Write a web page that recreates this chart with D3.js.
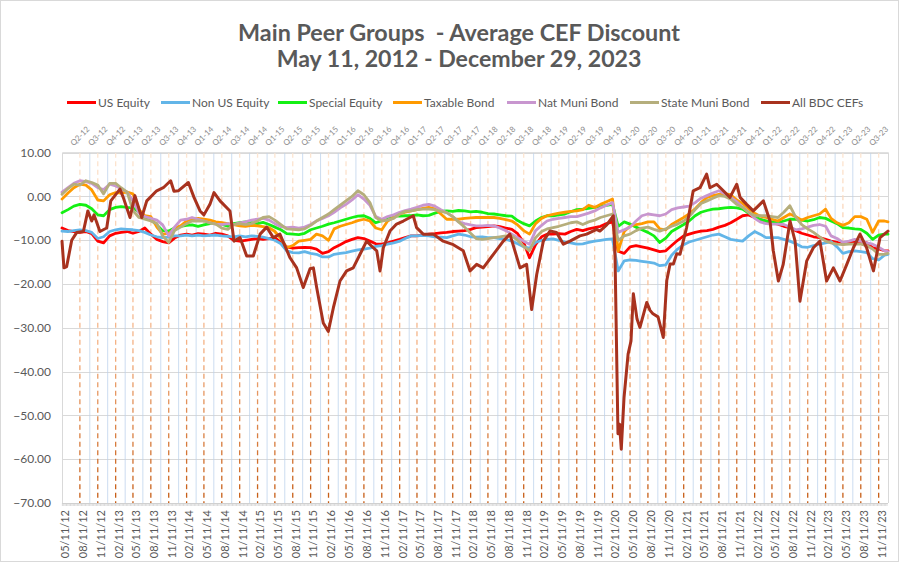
<!DOCTYPE html>
<html><head><meta charset="utf-8">
<script src="https://cdn.jsdelivr.net/npm/d3@7"></script>
<style>
body{margin:0;background:#fff}
svg{display:block}
text{font-family:Lato,"Open Sans",sans-serif}
</style>
</head><body>
<svg id="chart" width="899" height="562"></svg>
<script>
// ---------------- DATA ----------------
const titleLines = ["Main Peer Groups  - Average CEF Discount", "May 11, 2012 - December 29, 2023"];
const seriesNames = ["US Equity","Non US Equity","Special Equity","Taxable Bond","Nat Muni Bond","State Muni Bond","All BDC CEFs"];
const seriesColors = ["#ff0000","#62b5e8","#14f014","#ff9a00","#c896cf","#b5ae7c","#a8321e"];
const yTicks = [10,0,-10,-20,-30,-40,-50,-60,-70];
const quarterLabels = ["Q2-12","Q3-12","Q4-12","Q1-13","Q2-13","Q3-13","Q4-13","Q1-14","Q2-14","Q3-14","Q4-14",
  "Q1-15","Q2-15","Q3-15","Q4-15","Q1-16","Q2-16","Q3-16","Q4-16","Q1-17","Q2-17","Q3-17","Q4-17",
  "Q1-18","Q2-18","Q3-18","Q4-18","Q1-19","Q2-19","Q3-19","Q4-19","Q1-20","Q2-20","Q3-20","Q4-20",
  "Q1-21","Q2-21","Q3-21","Q4-21","Q1-22","Q2-22","Q3-22","Q4-22","Q1-23","Q2-23","Q3-23"];

// sample dates: the 11th of each month from May 2012 to Dec 2023, then the last observation
const startDate = new Date(2012,4,11), endDate = new Date(2023,11,29);
const monthDates = d3.range(140).map(i => new Date(2012, 4 + i, 11)).concat([endDate]);
// axis ticks: every 3 months from 05/11/12 to 11/11/23
const tickDates = d3.range(47).map(i => new Date(2012, 4 + 3 * i, 11));

const usEquity = [
 -7.2,-7.8,-8.0,-8.2,-8.0,-8.5,-10.2,-10.6,-9.0,-8.4,
 -8.2,-8.0,-8.4,-8.0,-7.2,-8.6,-9.8,-10.3,-10.6,-9.5,
 -8.8,-8.6,-8.8,-8.5,-8.6,-8.8,-8.4,-8.6,-9.0,-10.0,
 -10.2,-10.0,-9.8,-9.6,-9.8,-9.6,-9.4,-10.5,-11.5,-11.8,
 -11.7,-11.6,-11.7,-12.0,-13.0,-12.6,-11.7,-11.0,-10.3,-9.8,
 -9.4,-9.6,-10.2,-10.8,-10.9,-10.6,-10.2,-9.8,-9.4,-9.0,
 -9.0,-8.8,-8.6,-8.5,-8.3,-8.2,-8.0,-7.9,-7.8,-7.5,
 -7.1,-7.0,-6.9,-6.7,-6.9,-7.2,-7.5,-8.5,-10.5,-14.0,
 -11.0,-9.2,-8.6,-8.6,-8.5,-8.6,-8.0,-7.5,-7.8,-7.4,
 -7.1,-6.8,-6.2,-5.8,-12.5,-13.0,-11.5,-11.2,-11.5,-11.8,
 -12.2,-12.6,-12.4,-11.2,-10.0,-9.0,-8.6,-8.2,-7.9,-7.8,
 -7.5,-7.0,-6.6,-6.0,-5.2,-4.4,-4.2,-4.8,-5.3,-5.6,
 -6.0,-6.3,-6.8,-7.1,-7.8,-8.4,-8.8,-9.2,-9.4,-9.8,
 -10.2,-10.5,-10.9,-10.6,-10.3,-10.2,-10.6,-11.7,-12.0,-12.4,
 -12.4];
const nonUsEquity = [
 -7.9,-8.0,-7.8,-7.6,-7.8,-8.2,-9.6,-9.2,-8.0,-7.6,
 -7.4,-7.5,-7.6,-7.8,-8.2,-8.8,-9.2,-9.4,-9.3,-9.0,
 -9.0,-8.8,-9.0,-8.8,-9.0,-8.9,-8.8,-9.0,-9.1,-9.2,
 -9.0,-9.2,-9.0,-9.1,-9.3,-9.6,-10.0,-10.8,-12.4,-12.8,
 -12.9,-12.6,-13.0,-13.2,-13.8,-13.8,-13.2,-13.0,-12.8,-12.5,
 -12.2,-12.0,-11.8,-11.4,-11.2,-10.9,-10.6,-10.2,-9.6,-9.0,
 -9.0,-8.9,-9.0,-9.2,-9.3,-9.4,-9.0,-8.6,-8.8,-9.2,
 -9.3,-9.2,-9.4,-9.4,-9.6,-9.8,-10.2,-10.8,-11.5,-11.8,
 -10.5,-10.0,-9.8,-9.7,-10.0,-10.4,-10.6,-10.9,-10.8,-10.5,
 -10.2,-10.0,-9.8,-9.7,-17.0,-14.7,-14.5,-14.6,-14.8,-15.0,
 -15.2,-15.8,-15.6,-13.4,-12.0,-11.0,-10.4,-10.0,-9.6,-9.2,
 -8.8,-8.6,-9.2,-9.8,-10.0,-10.2,-9.0,-8.0,-8.6,-9.4,
 -9.4,-9.4,-9.8,-10.2,-10.8,-11.5,-11.6,-11.2,-10.9,-10.6,
 -10.3,-11.5,-13.0,-12.6,-12.4,-12.6,-12.8,-14.2,-14.5,-13.4,
 -13.2];
const specialEquity = [
 -3.7,-3.0,-2.2,-1.8,-2.0,-2.8,-4.2,-4.4,-3.0,-2.5,
 -2.3,-2.5,-2.6,-3.5,-5.0,-5.3,-6.5,-7.8,-7.9,-7.2,
 -6.8,-6.6,-6.5,-6.8,-6.5,-6.2,-6.0,-6.4,-6.8,-6.2,
 -6.0,-5.8,-6.0,-6.2,-5.9,-6.4,-7.0,-7.6,-8.5,-8.6,
 -8.7,-8.4,-7.6,-7.2,-6.8,-6.3,-6.0,-5.6,-5.2,-4.8,
 -4.5,-4.4,-5.0,-6.0,-5.5,-4.8,-4.4,-4.5,-4.4,-4.4,
 -4.2,-4.4,-4.3,-3.8,-3.4,-3.3,-3.4,-3.2,-3.3,-3.5,
 -3.4,-3.6,-3.9,-4.0,-4.2,-4.4,-4.5,-5.5,-6.2,-6.7,
 -5.6,-4.8,-4.4,-4.4,-4.2,-4.0,-3.5,-3.0,-2.9,-2.7,
 -2.5,-2.3,-2.0,-1.8,-6.8,-5.8,-6.3,-7.0,-7.6,-8.2,
 -9.0,-10.5,-9.5,-8.0,-7.2,-6.4,-5.6,-4.4,-3.6,-3.2,
 -2.9,-2.8,-2.6,-2.5,-2.6,-2.9,-3.8,-4.6,-5.2,-5.6,
 -5.8,-6.0,-5.6,-5.2,-5.2,-5.4,-5.6,-5.3,-4.8,-5.0,
 -5.6,-6.2,-7.1,-7.2,-7.4,-7.5,-8.4,-9.8,-8.8,-8.6,
 -8.6];
const taxableBond = [
 -0.6,0.8,2.0,2.8,2.6,1.5,-0.8,-1.0,0.4,0.9,
 0.8,1.0,0.6,-3.0,-4.4,-4.6,-7.0,-8.6,-8.4,-7.4,
 -6.7,-5.6,-5.2,-5.0,-5.2,-5.4,-5.8,-6.0,-6.2,-6.4,
 -6.7,-6.8,-6.6,-6.7,-6.9,-7.1,-8.0,-9.6,-11.7,-11.2,
 -10.2,-10.0,-9.8,-8.6,-9.0,-10.0,-7.4,-6.8,-6.4,-6.0,
 -5.5,-5.2,-5.6,-7.2,-7.6,-5.6,-4.8,-4.0,-3.6,-3.3,
 -3.0,-2.7,-2.5,-2.8,-4.0,-5.2,-5.2,-5.2,-5.0,-4.9,
 -4.8,-4.8,-4.8,-4.8,-5.0,-5.3,-5.6,-6.5,-7.8,-8.6,
 -6.2,-5.0,-4.4,-4.1,-3.8,-3.6,-3.4,-3.3,-3.0,-2.0,
 -2.5,-1.8,-1.2,-0.6,-12.5,-8.0,-6.8,-6.4,-6.2,-5.8,
 -5.8,-7.4,-7.6,-6.4,-5.6,-4.8,-4.0,-2.8,-1.4,-0.2,
 0.2,0.5,0.6,0.4,-0.8,-1.6,-2.8,-3.8,-4.5,-4.8,
 -5.2,-5.6,-4.8,-4.0,-4.6,-5.4,-4.8,-4.4,-4.0,-2.9,
 -5.0,-6.0,-6.6,-6.0,-4.6,-4.6,-5.2,-8.2,-5.6,-5.6,
 -5.8];
const natMuniBond = [
 1.0,2.0,3.0,3.6,3.4,3.0,2.0,1.6,2.8,2.4,
 1.8,1.0,-1.0,-3.8,-4.6,-5.0,-5.4,-6.5,-9.0,-7.0,
 -5.4,-5.2,-4.8,-5.2,-5.6,-6.0,-6.3,-6.4,-6.2,-6.4,
 -6.0,-5.8,-5.4,-5.2,-5.0,-5.4,-6.2,-6.9,-7.1,-7.0,
 -7.2,-7.0,-6.4,-5.6,-5.0,-4.4,-3.6,-2.6,-1.8,-0.8,
 0.4,-0.6,-2.0,-4.6,-5.2,-4.6,-4.2,-3.6,-3.2,-2.9,
 -2.5,-2.0,-1.8,-2.2,-3.0,-3.7,-4.6,-5.8,-6.2,-6.5,
 -6.7,-6.7,-6.6,-6.7,-7.2,-7.8,-8.6,-9.4,-10.2,-10.9,
 -7.8,-6.6,-5.6,-5.2,-5.0,-4.8,-4.6,-4.6,-4.2,-3.8,
 -3.3,-2.6,-2.0,-1.4,-8.2,-7.6,-7.0,-5.6,-4.4,-4.0,
 -4.2,-4.4,-4.0,-3.0,-2.6,-2.4,-2.2,-1.4,-0.4,0.2,
 0.8,1.3,0.6,-0.2,-1.2,-2.4,-3.6,-5.0,-5.8,-6.2,
 -6.3,-6.3,-6.4,-7.0,-7.6,-7.4,-7.0,-6.6,-6.4,-6.8,
 -9.0,-9.6,-10.5,-10.2,-9.8,-10.2,-10.6,-10.9,-11.6,-12.4,
 -12.6];
const stateMuniBond = [
 0.5,1.8,2.8,2.6,3.6,3.2,2.6,0.6,3.0,3.0,
 2.0,1.0,-3.2,-4.8,-5.2,-5.6,-6.2,-9.0,-10.5,-7.8,
 -7.0,-6.2,-5.6,-5.6,-5.6,-6.0,-6.3,-7.2,-7.5,-6.4,
 -6.2,-6.4,-6.2,-5.6,-4.8,-4.6,-5.4,-6.4,-7.4,-7.5,
 -7.6,-7.4,-6.6,-5.6,-4.8,-4.0,-3.0,-2.0,-1.0,0.0,
 1.3,0.4,-1.4,-4.8,-5.6,-5.4,-5.0,-4.0,-3.4,-3.3,
 -3.0,-2.9,-2.9,-3.0,-3.4,-3.7,-4.6,-5.8,-7.0,-8.4,
 -9.6,-9.8,-9.6,-9.4,-9.2,-9.0,-9.0,-10.0,-11.4,-12.4,
 -9.4,-8.0,-7.4,-7.1,-6.8,-6.4,-6.0,-5.8,-6.4,-5.8,
 -5.4,-4.8,-4.4,-4.0,-10.0,-9.0,-8.6,-7.8,-7.2,-7.0,
 -7.5,-7.9,-7.4,-6.8,-6.3,-5.6,-4.6,-3.0,-1.6,-1.0,
 -0.4,0.2,0.0,-0.6,-1.8,-2.5,-3.6,-4.4,-4.4,-4.4,
 -4.6,-4.8,-3.6,-2.1,-4.8,-6.4,-7.4,-8.2,-9.2,-10.2,
 -10.6,-10.9,-11.0,-10.9,-10.9,-10.9,-11.2,-12.0,-13.2,-13.2,
 -13.0];

// All BDC CEFs: read at turning points of the curve
const bdcDates = ["2012-05-11","2012-05-21","2012-06-04","2012-06-30","2012-07-26","2012-08-29","2012-09-21","2012-10-11","2012-10-23","2012-11-22",
 "2012-12-27","2013-01-17","2013-03-05","2013-03-22","2013-04-26","2013-05-21","2013-06-25","2013-07-21","2013-09-10","2013-10-14",
 "2013-11-21","2013-12-08","2013-12-30","2014-02-20","2014-03-21","2014-04-21","2014-05-11","2014-06-11","2014-07-02","2014-08-02",
 "2014-09-22","2014-10-13","2014-11-13","2014-12-17","2015-01-20","2015-02-24","2015-03-30","2015-05-03","2015-06-06","2015-07-28",
 "2015-08-31","2015-10-04","2015-11-08","2015-11-25","2015-12-12","2016-01-15","2016-02-10","2016-03-07","2016-04-10","2016-05-14",
 "2016-06-17","2016-07-22","2016-08-25","2016-09-28","2016-10-16","2016-11-02","2016-11-19","2016-12-23","2017-01-26","2017-03-02",
 "2017-04-22","2017-05-09","2017-06-12","2017-08-03","2017-09-23","2017-11-14","2018-01-04","2018-02-08","2018-03-14","2018-04-17",
 "2018-06-08","2018-07-29","2018-09-01","2018-10-23","2018-11-26","2018-12-22","2019-01-17","2019-02-20","2019-03-26","2019-04-29",
 "2019-06-03","2019-07-07","2019-08-27","2019-10-01","2019-11-21","2019-12-08","2020-01-12","2020-02-15","2020-02-24","2020-03-10",
 "2020-03-18","2020-03-27","2020-04-10","2020-05-01","2020-05-16","2020-05-28","2020-06-16","2020-07-01","2020-08-05","2020-08-22",
 "2020-09-06","2020-10-02","2020-10-29","2020-11-16","2020-12-03","2020-12-20","2021-01-06","2021-01-23","2021-02-26","2021-04-01",
 "2021-05-06","2021-06-09","2021-06-26","2021-07-31","2021-09-03","2021-10-07","2021-11-11","2021-11-28","2022-01-01","2022-02-04",
 "2022-03-28","2022-05-01","2022-05-18","2022-06-13","2022-07-08","2022-08-12","2022-09-07","2022-10-02","2022-11-06","2022-12-10",
 "2023-01-13","2023-02-16","2023-03-23","2023-04-26","2023-05-31","2023-07-04","2023-08-07","2023-09-10","2023-10-15","2023-11-18",
 "2023-12-29"];
const bdcValues = [-10.2,-16.3,-16.0,-10.0,-8.2,-8.0,-3.3,-5.6,-4.2,-8.0,
 -7.2,-1.0,1.7,-0.2,-4.8,0.2,-4.8,-1.0,1.3,2.0,
 3.6,1.2,1.3,3.2,-0.2,-3.3,-4.2,-1.8,0.9,-1.0,
 -3.3,-10.2,-9.4,-13.6,-13.6,-8.6,-7.0,-9.4,-8.6,-14.0,
 -16.3,-20.8,-16.5,-16.3,-20.8,-28.9,-30.8,-25.4,-19.3,-17.0,
 -16.3,-13.2,-10.2,-11.7,-12.4,-17.0,-11.7,-7.9,-6.3,-5.6,
 -4.4,-7.1,-8.6,-8.6,-10.2,-11.0,-12.4,-17.0,-15.5,-16.3,
 -13.2,-10.2,-8.6,-16.3,-15.5,-25.8,-17.8,-10.2,-7.9,-8.2,
 -10.9,-10.2,-9.0,-8.6,-7.5,-7.9,-6.5,-4.4,-14.0,-54.2,
 -52.0,-57.7,-46.0,-36.0,-33.0,-22.2,-28.0,-29.9,-24.2,-26.0,
 -26.8,-27.5,-32.2,-19.2,-15.4,-15.4,-13.1,-13.2,-7.1,1.3,
 2.0,5.1,2.0,2.8,1.3,-0.2,2.8,-0.2,-1.8,-3.3,
 -1.0,-5.6,-12.4,-19.3,-15.5,-5.6,-10.2,-23.9,-14.7,-11.7,
 -10.2,-19.3,-16.3,-19.3,-15.5,-11.7,-8.6,-11.7,-17.0,-9.4,
 -7.9];

// ---------------- LAYOUT ----------------
const W = 899, H = 562;
const plot = {left: 62, right: 888, top: 152.7, bottom: 503};
const legendX = [67,161,278,393,507,630,761];
const txtCol = "#595959";

const svg = d3.select("#chart");
svg.append("rect").attr("x",0.5).attr("y",0.5).attr("width",W-1).attr("height",H-1)
   .attr("fill","#fff").attr("stroke","#d9d9d9");

const parse = d3.timeParse("%Y-%m-%d");
const x = d3.scaleTime().domain([startDate, endDate]).range([plot.left, plot.right]);
const y = d3.scaleLinear().domain([-70, 10]).range([plot.bottom, plot.top]);

// title
titleLines.forEach((t, i) => {
  const el = svg.append("text").attr("x", 459).attr("y", i === 0 ? 41 : 67)
    .attr("text-anchor","middle").attr("font-weight","bold").attr("fill",txtCol)
    .style("white-space","pre").attr("font-size",22).text(t);
  const target = i === 0 ? 442 : 365;
  const w = el.node().getComputedTextLength();
  el.attr("font-size", 22 * target / w);
});

// legend
const leg = svg.append("g");
seriesNames.forEach((n, i) => {
  leg.append("line").attr("x1",legendX[i]).attr("x2",legendX[i]+29)
     .attr("y1",102.5).attr("y2",102.5).attr("stroke",seriesColors[i]).attr("stroke-width",3);
  leg.append("text").attr("x",legendX[i]+31).attr("y",102.5).attr("dy","0.35em")
     .attr("font-size",12).attr("fill",txtCol).text(n);
});

// horizontal gridlines
svg.append("g").selectAll("line").data(yTicks).join("line")
  .attr("x1",plot.left).attr("x2",plot.right)
  .attr("y1",d=>Math.round(y(d))+0.5).attr("y2",d=>Math.round(y(d))+0.5)
  .attr("stroke","#d9d9d9").attr("stroke-width",1);

// quarter-start light vertical lines
const qStarts = d3.timeMonth.range(new Date(2012,9,1), new Date(2023,11,1), 3);
svg.append("g").selectAll("line").data(qStarts).join("line")
  .attr("x1",d=>x(d)).attr("x2",d=>x(d)).attr("y1",plot.top).attr("y2",plot.bottom)
  .attr("stroke","#bcd2ec").attr("stroke-width",1).attr("opacity",0.75);

// dashed orange quarter markers with gradient
const defs = svg.append("defs");
const grad = defs.append("linearGradient").attr("id","dashGrad")
  .attr("gradientUnits","userSpaceOnUse").attr("x1",0).attr("x2",0)
  .attr("y1",plot.top).attr("y2",plot.bottom);
grad.append("stop").attr("offset","0%").attr("stop-color","#fde6d2");
grad.append("stop").attr("offset","55%").attr("stop-color","#f4b183");
grad.append("stop").attr("offset","100%").attr("stop-color","#c55a11");
svg.append("g").selectAll("line").data(tickDates.slice(1)).join("line")
  .attr("x1",d=>x(d)).attr("x2",d=>x(d)).attr("y1",plot.top).attr("y2",plot.bottom)
  .attr("stroke","url(#dashGrad)").attr("stroke-width",1.3).attr("stroke-dasharray","5,3.5");

// plot frame (left, right, top)
svg.append("path")
  .attr("d",`M${plot.left+0.5},${plot.bottom}V${plot.top}H${plot.right+0.5}V${plot.bottom}`)
  .attr("fill","none").attr("stroke","#d9d9d9");

// bottom axis with dense minor ticks
const weeks = d3.timeWeek.range(startDate, endDate);
svg.append("g").selectAll("line").data(weeks).join("line")
  .attr("x1",d=>x(d)).attr("x2",d=>x(d)).attr("y1",plot.bottom).attr("y2",plot.bottom+3)
  .attr("stroke","#d0d0d0").attr("stroke-width",0.8);
svg.append("line").attr("x1",plot.left).attr("x2",plot.right)
  .attr("y1",plot.bottom+0.5).attr("y2",plot.bottom+0.5).attr("stroke","#d0d0d0");

// y axis labels
const fmtY = d3.format(".2f");
svg.append("g").selectAll("text").data(yTicks).join("text")
  .attr("x",51).attr("y",d=>y(d)).attr("dy","0.35em").attr("text-anchor","end")
  .attr("font-size",12).attr("fill",txtCol).text(d=>fmtY(d));

// x axis labels
const fmtX = d3.timeFormat("%m/%d/%y");
svg.append("g").selectAll("text").data(tickDates).join("text")
  .attr("transform",d=>`translate(${x(d)+3},${plot.bottom+7}) rotate(-90)`)
  .attr("text-anchor","end").attr("dy","0.35em")
  .attr("font-size",11).attr("fill",txtCol).text(d=>fmtX(d));

// top quarter labels
svg.append("g").selectAll("text").data(quarterLabels).join("text")
  .attr("transform",(d,i)=>`translate(${x(tickDates[i+1])},${136}) rotate(-45)`)
  .attr("text-anchor","middle").attr("dy","0.35em")
  .attr("font-size",8).attr("fill","#8c8c8c").text(d=>d);

// series lines
const monthSeries = [usEquity, nonUsEquity, specialEquity, taxableBond, natMuniBond, stateMuniBond];
const line = d3.line().x(d=>x(d[0])).y(d=>y(d[1])).curve(d3.curveLinear);
const gLines = svg.append("g");
monthSeries.forEach((vals, i) => {
  const pts = monthDates.map((d, j) => [d, vals[j]]);
  gLines.append("path").datum(pts).attr("d", line)
    .attr("fill","none").attr("stroke",seriesColors[i]).attr("stroke-width",2.8)
    .attr("stroke-linejoin","round").attr("stroke-linecap","round");
});
const bdcPts = bdcDates.map((d, j) => [parse(d), bdcValues[j]]);
gLines.append("path").datum(bdcPts).attr("d", line)
  .attr("fill","none").attr("stroke",seriesColors[6]).attr("stroke-width",3)
  .attr("stroke-linejoin","round").attr("stroke-linecap","round");
</script>
</body></html>
